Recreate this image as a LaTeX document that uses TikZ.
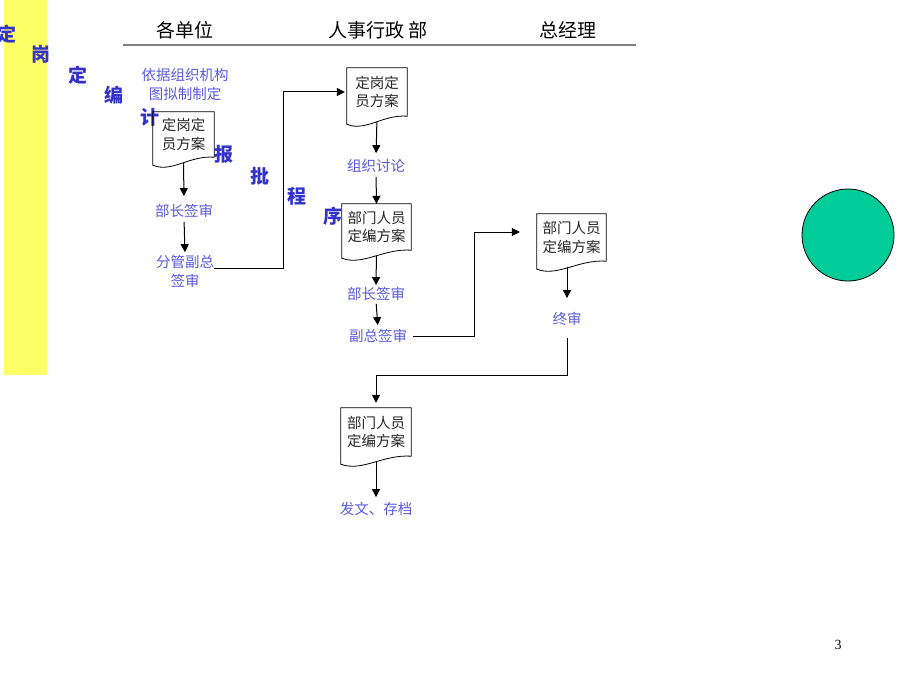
\documentclass[tikz,border=0pt]{standalone}
\usepackage{fontspec}
\setmainfont{Liberation Serif}
\newfontfamily\cjk{Noto Sans CJK SC}
\usetikzlibrary{arrows.meta,calc}
\definecolor{ylw}{RGB}{255,255,102}
\definecolor{lblue}{RGB}{90,90,225}
\definecolor{dblue}{RGB}{51,51,204}
\definecolor{grn}{RGB}{0,204,153}
\definecolor{hline}{RGB}{128,128,128}
\newcommand\docframe[1]{\path[docline] (#1.north west) -- (#1.north east) -- (#1.south east)
  .. controls ($(#1.south east)!0.4!(#1.south west)+(0,-2)$) and ($(#1.south west)!0.3!(#1.south east)+(0,16)$)
  .. ($(#1.south west)+(0,8)$) -- cycle;}
\begin{document}
\begin{tikzpicture}[x=1pt,y=-1pt,
  head/.style={font=\cjk\fontsize{19}{19}\selectfont, inner sep=0pt},
  lbl/.style={font=\cjk\fontsize{14.5}{19}\selectfont, text=lblue, align=center, inner sep=0pt},
  docbox/.style={font=\cjk\fontsize{14.5}{18.5}\selectfont, align=center, inner sep=0pt, text=black!85, minimum width=#1},
  vert/.style={font=\cjk\bfseries\fontsize{19}{19}\selectfont, text=dblue, inner sep=0pt},
  arr/.style={draw, line width=1pt, -{Triangle[length=8pt,width=8pt]}},
  docline/.style={draw, line width=0.8pt},
]
\useasboundingbox (0,0) rectangle (920,690);
\fill[ylw] (4,0) rectangle (47,375);

% diagonal title
\node[vert] (v1) at (7,34) {定};
\node[vert] (v2) at (41,54) {岗};
\node[vert] (v3) at (78,75) {定};
\node[vert] (v4) at (114,95) {编};
\node[vert] (v5) at (150,117) {计};
\node[vert] (v6) at (224,154) {报};
\node[vert] (v7) at (260,176) {批};
\node[vert] (v8) at (297,196) {程};
\node[vert] (v9) at (333,216) {序};

% header
\node[head] (h1) at (185,30) {各单位};
\node[head] (h2) at (378,30) {人事行政 部};
\node[head] (h3) at (568,30) {总经理};
\coordinate (hl1) at (123,45);
\coordinate (hl2) at (636,45);
\draw[hline, line width=2.5pt] (hl1) -- (hl2);

% documents
\node[docbox=61pt, minimum height=45pt] (d1) at (183.5,134.5) {定岗定\\员方案};
\node[docbox=60pt, minimum height=48pt] (d2) at (377,92) {定岗定\\员方案};
\node[docbox=69pt, minimum height=46pt] (d3) at (376.5,227) {部门人员\\定编方案};
\node[docbox=69pt, minimum height=47pt] (d4) at (571.5,237.5) {部门人员\\定编方案};
\node[docbox=70pt, minimum height=48pt] (d5) at (376,432) {部门人员\\定编方案};
\docframe{d1}
\docframe{d2}
\docframe{d3}
\docframe{d4}
\docframe{d5}

% labels
\node[lbl] (l0) at (185,85) {依据组织机构\\图拟制制定};
\node[lbl] (l1) at (184,211) {部长签审};
\node[lbl] (l2) at (185,271.5) {分管副总\\签审};
\node[lbl] (m1) at (376,166) {组织讨论};
\node[lbl] (m2) at (376,294) {部长签审};
\node[lbl] (m3) at (378,336) {副总签审};
\node[lbl] (r1) at (567,319) {终审};
\node[lbl] (b1) at (376,509) {发文、存档};

% connectors
\draw[arr, shorten <=6pt, shorten >=8pt] (d1.south) -- (l1.north);
\draw[arr, shorten <=4pt, shorten >=3pt] (l1.south) -- (l2.north);
\draw[arr, shorten >=2pt] ([yshift=3.5pt]l2.east) -- ++(69,0) |- (d2.west);
\draw[arr, shorten <=6pt, shorten >=6pt] (d2.south) -- (m1.north);
\draw[arr, shorten <=4pt] (m1.south) -- (d3.north);
\draw[arr, shorten <=6pt, shorten >=2pt] (d3.south) -- (m2.north);
\draw[arr, shorten <=3pt, shorten >=4pt] (m2.south) -- (m3.north);
\draw[arr, shorten >=17pt] ([xshift=6pt]m3.east) -- ++(61,0) |- ([yshift=5.5pt]d4.west);
\draw[arr, shorten <=6pt, shorten >=14pt] ([xshift=-4.5pt]d4.south) -- ([xshift=-4.5pt]d4.south |- r1.north);
\coordinate (bend) at (567,375);
\draw[arr, shorten <=12pt, shorten >=5pt] (r1.south) -- (bend) -| (d5.north);
\draw[arr, shorten <=6pt, shorten >=5pt] (d5.south) -- (b1.north);

% circle and page number
\node[circle, draw, fill=grn, minimum size=92pt, line width=0.8pt, inner sep=0pt] (c) at (848,235) {};
\node[font=\fontsize{14}{14}\selectfont, inner sep=0pt] (pg) at (838,645) {3};
\end{tikzpicture}
\end{document}
